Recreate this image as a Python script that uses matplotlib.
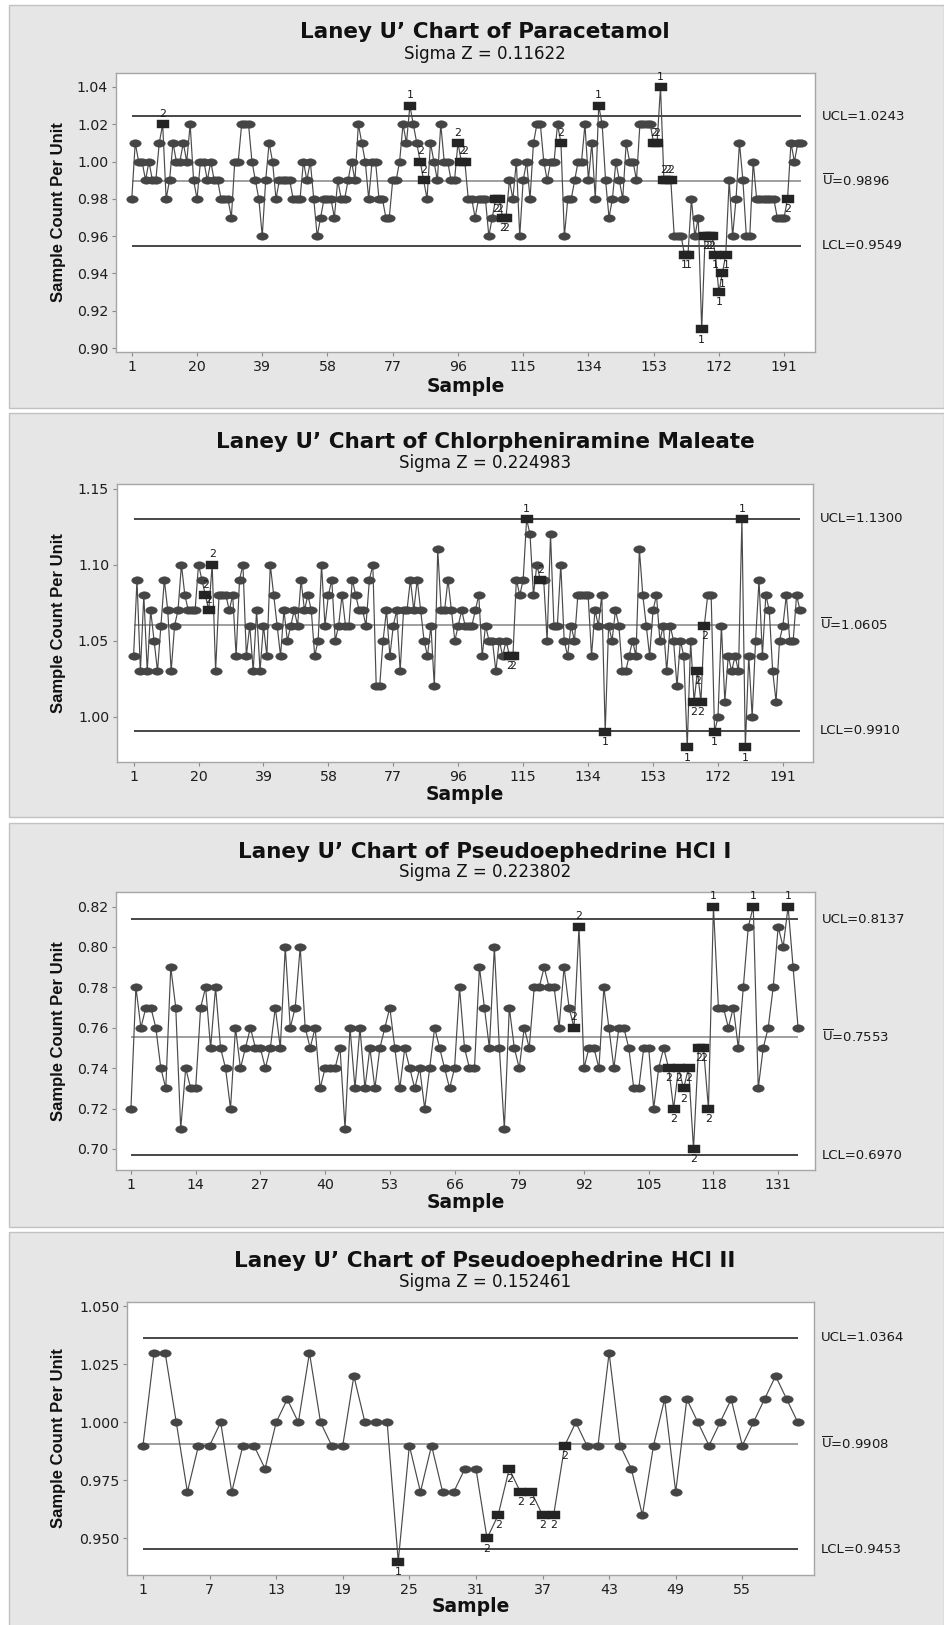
import numpy as np
import matplotlib
matplotlib.use("Agg")
import matplotlib.pyplot as plt
from matplotlib.path import Path
from matplotlib.patches import Rectangle
import matplotlib.transforms as mtransforms

plt.rcParams['font.family'] = ['DejaVu Sans']
plt.rcParams['mathtext.fontset'] = 'dejavusans'

W, H = 944, 1625

# ---------------- data ----------------
para_values = [
    0.98, 1.01, 1.00, 1.00, 0.99, 1.00, 0.99, 0.99, 1.01, 1.02,
    0.98, 0.99, 1.01, 1.00, 1.00, 1.01, 1.00, 1.02, 0.99, 0.98,
    1.00, 1.00, 0.99, 1.00, 0.99, 0.99, 0.98, 0.98, 0.98, 0.97,
    1.00, 1.00, 1.02, 1.02, 1.02, 1.00, 0.99, 0.98, 0.96, 0.99,
    1.01, 1.00, 0.98, 0.99, 0.99, 0.99, 0.99, 0.98, 0.98, 0.98,
    1.00, 0.99, 1.00, 0.98, 0.96, 0.97, 0.98, 0.98, 0.98, 0.97,
    0.99, 0.98, 0.98, 0.99, 1.00, 0.99, 1.02, 1.01, 1.00, 0.98,
    1.00, 1.00, 0.98, 0.98, 0.97, 0.97, 0.99, 0.99, 1.00, 1.02,
    1.01, 1.03, 1.02, 1.01, 1.00, 0.99, 0.98, 1.01, 1.00, 0.99,
    1.02, 1.00, 1.00, 0.99, 0.99, 1.01, 1.00, 1.00, 0.98, 0.98,
    0.97, 0.98, 0.98, 0.98, 0.96, 0.97, 0.98, 0.98, 0.97, 0.97,
    0.99, 0.98, 1.00, 0.96, 0.99, 1.00, 0.98, 1.01, 1.02, 1.02,
    1.00, 0.99, 1.00, 1.00, 1.02, 1.01, 0.96, 0.98, 0.98, 0.99,
    1.00, 1.00, 1.02, 0.99, 1.01, 0.98, 1.03, 1.02, 0.99, 0.97,
    0.98, 1.00, 0.99, 0.98, 1.01, 1.00, 1.00, 0.99, 1.02, 1.02,
    1.02, 1.02, 1.01, 1.01, 1.04, 0.99, 0.99, 0.99, 0.96, 0.96,
    0.96, 0.95, 0.95, 0.98, 0.96, 0.97, 0.91, 0.96, 0.96, 0.96,
    0.95, 0.93, 0.94, 0.95, 0.99, 0.96, 0.98, 1.01, 0.99, 0.96,
    0.96, 1.00, 0.98, 0.98, 0.98, 0.98, 0.98, 0.98, 0.97, 0.97,
    0.97, 0.98, 1.01, 1.00, 1.01, 1.01,
]
para_flag_samples = [10, 82, 85, 86, 96, 97, 98, 107, 108, 109, 110, 126, 137,
                     153, 154, 155, 156, 157, 158, 162, 163, 167, 168, 169, 170,
                     171, 172, 173, 174, 192]
para_flag_labels = ['2', '1', '2', '2', '2', '2', '2', '2', '2', '2', '2', '2', '1',
                    '2', '2', '1', '2', '2', '2', '1', '1', '1', '2', '2', '2',
                    '1', '1', '1', '1', '2']
para_limits = [1.0243, 0.9896, 0.9549]
para_limit_labels = ['UCL=1.0243', r'$\overline{\mathrm{U}}$=0.9896', 'LCL=0.9549']
para_yticks = [0.90, 0.92, 0.94, 0.96, 0.98, 1.00, 1.02, 1.04]
para_yticklabels = ['0.90', '0.92', '0.94', '0.96', '0.98', '1.00', '1.02', '1.04']
para_xticks = [1, 20, 39, 58, 77, 96, 115, 134, 153, 172, 191]

chlor_values = [
    1.04, 1.09, 1.03, 1.08, 1.03, 1.07, 1.05, 1.03, 1.06, 1.09,
    1.07, 1.03, 1.06, 1.07, 1.10, 1.08, 1.07, 1.07, 1.07, 1.10,
    1.09, 1.08, 1.07, 1.10, 1.03, 1.08, 1.08, 1.08, 1.07, 1.08,
    1.04, 1.09, 1.10, 1.04, 1.06, 1.03, 1.07, 1.03, 1.06, 1.04,
    1.10, 1.08, 1.06, 1.04, 1.07, 1.05, 1.06, 1.07, 1.06, 1.09,
    1.07, 1.08, 1.07, 1.04, 1.05, 1.10, 1.06, 1.08, 1.09, 1.05,
    1.06, 1.08, 1.06, 1.06, 1.09, 1.08, 1.07, 1.07, 1.06, 1.09,
    1.10, 1.02, 1.02, 1.05, 1.07, 1.04, 1.06, 1.07, 1.03, 1.07,
    1.07, 1.09, 1.07, 1.09, 1.07, 1.05, 1.04, 1.06, 1.02, 1.11,
    1.07, 1.07, 1.09, 1.07, 1.05, 1.06, 1.07, 1.06, 1.06, 1.06,
    1.07, 1.08, 1.04, 1.06, 1.05, 1.05, 1.03, 1.05, 1.04, 1.05,
    1.04, 1.04, 1.09, 1.08, 1.09, 1.13, 1.12, 1.08, 1.10, 1.09,
    1.09, 1.05, 1.12, 1.06, 1.06, 1.10, 1.05, 1.04, 1.06, 1.05,
    1.08, 1.08, 1.08, 1.08, 1.04, 1.07, 1.06, 1.08, 0.99, 1.06,
    1.05, 1.07, 1.06, 1.03, 1.03, 1.04, 1.05, 1.04, 1.11, 1.08,
    1.06, 1.04, 1.07, 1.08, 1.05, 1.06, 1.03, 1.06, 1.05, 1.02,
    1.05, 1.04, 0.98, 1.05, 1.01, 1.03, 1.01, 1.06, 1.08, 1.08,
    0.99, 1.00, 1.06, 1.01, 1.04, 1.03, 1.04, 1.03, 1.13, 0.98,
    1.04, 1.00, 1.05, 1.09, 1.04, 1.08, 1.07, 1.03, 1.01, 1.05,
    1.06, 1.08, 1.05, 1.05, 1.08, 1.07,
]
chlor_flag_samples = [22, 23, 24, 111, 112, 116, 120, 139, 163, 165, 166, 167,
                      168, 171, 179, 180]
chlor_flag_labels = ['2', '2', '2', '2', '2', '1', '2', '1', '1', '2', '2', '2',
                     '2', '1', '1', '1']
chlor_limits = [1.1300, 1.0605, 0.9910]
chlor_limit_labels = ['UCL=1.1300', r'$\overline{\mathrm{U}}$=1.0605', 'LCL=0.9910']
chlor_yticks = [1.00, 1.05, 1.10, 1.15]
chlor_yticklabels = ['1.00', '1.05', '1.10', '1.15']
chlor_xticks = [1, 20, 39, 58, 77, 96, 115, 134, 153, 172, 191]

pse1_values = [
    0.72, 0.78, 0.76, 0.77, 0.77, 0.76, 0.74, 0.73, 0.79, 0.77,
    0.71, 0.74, 0.73, 0.73, 0.77, 0.78, 0.75, 0.78, 0.75, 0.74,
    0.72, 0.76, 0.74, 0.75, 0.76, 0.75, 0.75, 0.74, 0.75, 0.77,
    0.75, 0.80, 0.76, 0.77, 0.80, 0.76, 0.75, 0.76, 0.73, 0.74,
    0.74, 0.74, 0.75, 0.71, 0.76, 0.73, 0.76, 0.73, 0.75, 0.73,
    0.75, 0.76, 0.77, 0.75, 0.73, 0.75, 0.74, 0.73, 0.74, 0.72,
    0.74, 0.76, 0.75, 0.74, 0.73, 0.74, 0.78, 0.75, 0.74, 0.74,
    0.79, 0.77, 0.75, 0.80, 0.75, 0.71, 0.77, 0.75, 0.74, 0.76,
    0.75, 0.78, 0.78, 0.79, 0.78, 0.78, 0.76, 0.79, 0.77, 0.76,
    0.81, 0.74, 0.75, 0.75, 0.74, 0.78, 0.76, 0.74, 0.76, 0.76,
    0.75, 0.73, 0.73, 0.75, 0.75, 0.72, 0.74, 0.75, 0.74, 0.72,
    0.74, 0.73, 0.74, 0.70, 0.75, 0.75, 0.72, 0.82, 0.77, 0.77,
    0.76, 0.77, 0.75, 0.78, 0.81, 0.82, 0.73, 0.75, 0.76, 0.78,
    0.81, 0.80, 0.82, 0.79, 0.76,
]
pse1_flag_samples = [90, 91, 109, 110, 111, 112, 113, 114, 115, 116, 117, 118, 126, 133]
pse1_flag_labels = ['2', '2', '2', '2', '2', '2', '2', '2', '2', '2', '2', '1', '1', '1']
pse1_limits = [0.8137, 0.7553, 0.6970]
pse1_limit_labels = ['UCL=0.8137', r'$\overline{\mathrm{U}}$=0.7553', 'LCL=0.6970']
pse1_yticks = [0.70, 0.72, 0.74, 0.76, 0.78, 0.80, 0.82]
pse1_yticklabels = ['0.70', '0.72', '0.74', '0.76', '0.78', '0.80', '0.82']
pse1_xticks = [1, 14, 27, 40, 53, 66, 79, 92, 105, 118, 131]

pse2_values = [
    0.99, 1.03, 1.03, 1.00, 0.97, 0.99, 0.99, 1.00, 0.97, 0.99,
    0.99, 0.98, 1.00, 1.01, 1.00, 1.03, 1.00, 0.99, 0.99, 1.02,
    1.00, 1.00, 1.00, 0.94, 0.99, 0.97, 0.99, 0.97, 0.97, 0.98,
    0.98, 0.95, 0.96, 0.98, 0.97, 0.97, 0.96, 0.96, 0.99, 1.00,
    0.99, 0.99, 1.03, 0.99, 0.98, 0.96, 0.99, 1.01, 0.97, 1.01,
    1.00, 0.99, 1.00, 1.01, 0.99, 1.00, 1.01, 1.02, 1.01, 1.00,
]
pse2_flag_samples = [24, 32, 33, 34, 35, 36, 37, 38, 39]
pse2_flag_labels = ['1', '2', '2', '2', '2', '2', '2', '2', '2']
pse2_limits = [1.0364, 0.9908, 0.9453]
pse2_limit_labels = ['UCL=1.0364', r'$\overline{\mathrm{U}}$=0.9908', 'LCL=0.9453']
pse2_yticks = [0.950, 0.975, 1.000, 1.025, 1.050]
pse2_yticklabels = ['0.950', '0.975', '1.000', '1.025', '1.050']
pse2_xticks = [1, 7, 13, 19, 25, 31, 37, 43, 49, 55]

titles = ["Laney U\u2019 Chart of Paracetamol",
          "Laney U\u2019 Chart of Chlorpheniramine Maleate",
          "Laney U\u2019 Chart of Pseudoephedrine HCl I",
          "Laney U\u2019 Chart of Pseudoephedrine HCl II"]
subtitles = ["Sigma Z = 0.11622", "Sigma Z = 0.224983",
             "Sigma Z = 0.223802", "Sigma Z = 0.152461"]
x_label = "Sample"
y_label = "Sample Count Per Unit"

# ---------------- layout (pixels, top-left origin) ----------------
layout = [
    dict(box=(9, 5, 944, 408), ax=(116, 73, 815, 352), xlim=(-3.6, 200.0),
         ylim=(0.8979, 1.0475), ty=32, sy=54, xly=386),
    dict(box=(9, 413, 944, 817), ax=(117, 484, 813, 762), xlim=(-3.85, 199.8),
         ylim=(0.9703, 1.153), ty=442, sy=463, xly=794),
    dict(box=(9, 823, 944, 1227), ax=(116, 892, 815, 1170), xlim=(-2.0, 138.4),
         ylim=(0.6896, 0.8272), ty=852, sy=872, xly=1202),
    dict(box=(9, 1232, 944, 1630), ax=(127, 1302, 814, 1575), xlim=(-0.44, 61.46),
         ylim=(0.9342, 1.0519), ty=1261, sy=1282, xly=1607),
]

series = [
    (para_values, para_flag_samples, para_flag_labels, para_limits, para_limit_labels,
     para_yticks, para_yticklabels, para_xticks),
    (chlor_values, chlor_flag_samples, chlor_flag_labels, chlor_limits, chlor_limit_labels,
     chlor_yticks, chlor_yticklabels, chlor_xticks),
    (pse1_values, pse1_flag_samples, pse1_flag_labels, pse1_limits, pse1_limit_labels,
     pse1_yticks, pse1_yticklabels, pse1_xticks),
    (pse2_values, pse2_flag_samples, pse2_flag_labels, pse2_limits, pse2_limit_labels,
     pse2_yticks, pse2_yticklabels, pse2_xticks),
]

# custom markers: stretched ellipse and stretched square
theta = np.linspace(0, 2 * np.pi, 64)
ellipse_marker = Path(np.column_stack([np.cos(theta), 0.65 * np.sin(theta)]))
rect_marker = Path([[-1, -0.68], [1, -0.68], [1, 0.68], [-1, 0.68], [-1, -0.68]],
                   [Path.MOVETO, Path.LINETO, Path.LINETO, Path.LINETO, Path.CLOSEPOLY])

fig = plt.figure(figsize=(W / 100, H / 100), dpi=100)
fig.patch.set_facecolor('white')


def fx(x):
    return x / W


def fy(y):
    return 1 - y / H


for i, (lay, ser) in enumerate(zip(layout, series)):
    values, fl_s, fl_l, limits, lim_labels, yt, ytl, xt = ser
    bx0, by0, bx1, by1 = lay['box']
    fig.add_artist(Rectangle((fx(bx0), fy(by1)), (bx1 - bx0) / W, (by1 - by0) / H,
                             transform=fig.transFigure, facecolor='#e6e6e6',
                             edgecolor='#c2c2c2', lw=1.0, zorder=-5))
    l, t, r, b = lay['ax']
    ax = fig.add_axes([fx(l), fy(b), (r - l) / W, (b - t) / H])
    ax.set_facecolor('white')
    v = np.array(values)
    n = len(v)
    xs = np.arange(1, n + 1)
    flagged = np.zeros(n, dtype=bool)
    flagged[np.array(fl_s) - 1] = True

    ucl, cl, lcl = limits
    ax.hlines([ucl, lcl], 1, n, colors='#383838', lw=1.3, zorder=1)
    ax.hlines([cl], 1, n, colors='#858585', lw=1.1, zorder=1)

    ax.plot(xs, v, '-', color='#4a4a4a', lw=0.85, zorder=2)
    ax.plot(xs[~flagged], v[~flagged], ls='none', marker=ellipse_marker, ms=8.3,
            mfc='#454545', mec='#454545', mew=0.3, zorder=3)
    ax.plot(xs[flagged], v[flagged], ls='none', marker=rect_marker, ms=8.0,
            mfc='#242424', mec='#242424', mew=0.3, zorder=4)

    for s, lab in zip(fl_s, fl_l):
        val = v[s - 1]
        if val > cl:
            ax.annotate(lab, (s, val), xytext=(0, 3.8), textcoords='offset points',
                        ha='center', va='bottom', fontsize=7.8, color='#1a1a1a',
                        zorder=5, annotation_clip=False)
        else:
            ax.annotate(lab, (s, val), xytext=(0, -3.8), textcoords='offset points',
                        ha='center', va='top', fontsize=7.8, color='#1a1a1a',
                        zorder=5, annotation_clip=False)

    trans = mtransforms.blended_transform_factory(ax.transAxes, ax.transData)
    for val, lab in zip(limits, lim_labels):
        ax.annotate(lab, (1, val), xycoords=trans, xytext=(5, 0),
                    textcoords='offset points', ha='left', va='center',
                    fontsize=9.5, color='#1a1a1a', annotation_clip=False)

    ax.set_xlim(*lay['xlim'])
    ax.set_ylim(*lay['ylim'])
    ax.set_xticks(xt)
    ax.set_xticklabels([str(k) for k in xt])
    ax.set_yticks(yt)
    ax.set_yticklabels(ytl)
    ax.tick_params(axis='both', direction='out', length=3.2, width=0.8,
                   color='#8a8a8a', labelsize=10.2, labelcolor='#1e1e1e', pad=2.5)
    for sp in ax.spines.values():
        sp.set_color('#a6a6a6')
        sp.set_linewidth(1.0)

    fig.text(fx(485), fy(lay['ty']), titles[i], ha='center', va='center',
             fontsize=15.5, fontweight='bold', color='#111111')
    fig.text(fx(485), fy(lay['sy']), subtitles[i], ha='center', va='center',
             fontsize=12, color='#111111')
    fig.text(fx((l + r) / 2), fy(lay['xly']), x_label, ha='center', va='center',
             fontsize=13.5, fontweight='bold', color='#111111')
    fig.text(fx(59), fy((t + b) / 2), y_label, ha='center', va='center',
             rotation=90, fontsize=12, fontweight='bold', color='#111111',
             family=['Liberation Sans', 'DejaVu Sans'])

fig.savefig('out.png', dpi=100, facecolor='white')
